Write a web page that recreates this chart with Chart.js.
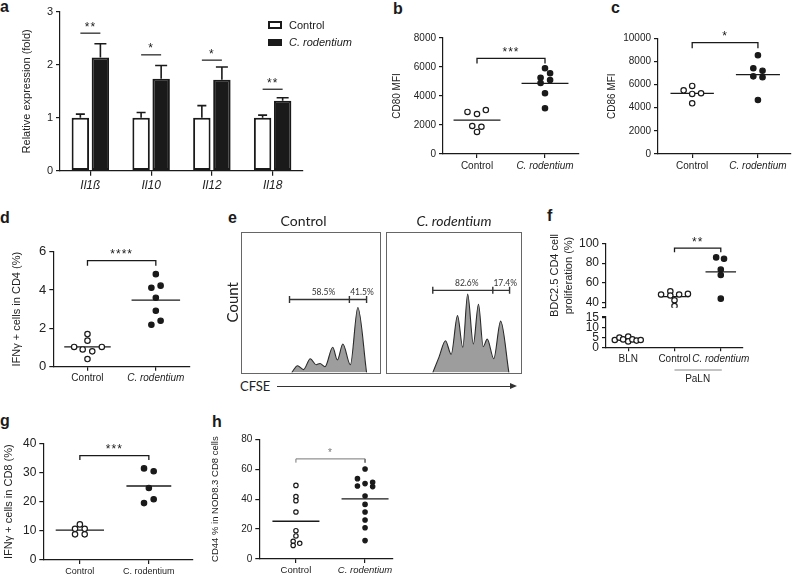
<!DOCTYPE html>
<html>
<head>
<meta charset="utf-8">
<title>C. rodentium figure</title>
<script src="https://cdn.jsdelivr.net/npm/chart.js@4.4.1/dist/chart.umd.min.js"></script>
<style>
  body { margin: 0; background: #fff; }
  #page { position: relative; width: 796px; height: 575px; overflow: hidden; font-family: 'Liberation Sans', Arial, sans-serif; color: #1a1a1a; }
  #page canvas { position: absolute; }
  .tag { position: absolute; font-weight: bold; font-size: 16px; line-height: 16px; }
  .cfse { position: absolute; left: 240px; top: 379px; font-family: Lato, sans-serif; font-size: 13px; line-height: 15px; color: #222; }
  .arrow { position: absolute; left: 277px; top: 386px; width: 234px; height: 0; border-top: 1px solid #333; }
  .arrow:after { content: ''; position: absolute; right: -6px; top: -4px; border-left: 7px solid #333; border-top: 3.5px solid transparent; border-bottom: 3.5px solid transparent; }
</style>
</head>
<body>
<div id="page">
  <div class="tag" style="left:0px;top:-1px">a</div>
  <div class="tag" style="left:393px;top:1px">b</div>
  <div class="tag" style="left:611px;top:0px">c</div>
  <div class="tag" style="left:0px;top:210px">d</div>
  <div class="tag" style="left:228px;top:210px">e</div>
  <div class="tag" style="left:547px;top:208px">f</div>
  <div class="tag" style="left:0px;top:413px">g</div>
  <div class="tag" style="left:212px;top:414px">h</div>
  <div class="cfse">CFSE</div>
  <div class="arrow"></div>
  <canvas id="chartA"></canvas>
  <canvas id="chartB"></canvas>
  <canvas id="chartC"></canvas>
  <canvas id="chartD"></canvas>
  <canvas id="chartE1"></canvas>
  <canvas id="chartE2"></canvas>
  <canvas id="chartF1"></canvas>
  <canvas id="chartF2"></canvas>
  <canvas id="chartG"></canvas>
  <canvas id="chartH"></canvas>
</div>
<script>
// a: relative expression
const aGenes = ['Il1ß', 'Il10', 'Il12', 'Il18'];
const aControl = [1, 1, 1, 1];
const aControlErr = [0.07, 0.1, 0.23, 0.05];
const aRodent = [2.14, 1.74, 1.72, 1.32];
const aRodentErr = [0.26, 0.25, 0.24, 0.06];
const aSigY = [2.6, 2.19, 2.09, 1.54];
const aSigStars = ['**', '*', '*', '**'];
const aTicks = [0, 1, 2, 3];

const groupNames = ['Control', 'C. rodentium'];

// b: CD80 MFI
const bControl = [2900, 2760, 3030, 1930, 1880, 1520];
const bControlJit = [-0.28, 0, 0.26, -0.14, 0.13, 0];
const bRodent = [5910, 5570, 5260, 5100, 4900, 4190, 3150];
const bRodentJit = [0, 0.15, -0.13, 0.15, -0.13, 0, 0];
const bTicks = [0, 2000, 4000, 6000, 8000];
const bBracket = [6250, 6600];

// c: CD86 MFI
const cControl = [5500, 5880, 5190, 5250, 4380];
const cControlJit = [-0.26, 0, 0, 0.27, 0];
const cRodent = [8530, 7410, 7200, 6710, 6630, 4670];
const cRodentJit = [0, -0.14, 0.14, -0.14, 0.14, 0];
const cTicks = [0, 2000, 4000, 6000, 8000, 10000];
const cBracket = [9140, 9620];

// d: IFNg+ in CD4
const dControl = [1.7, 1.36, 1.03, 0.9, 0.8, 1.03, 0.4];
const dControlJit = [0, 0, -0.39, -0.14, 0.14, 0.42, 0];
const dRodent = [4.83, 4.12, 4.23, 3.6, 2.92, 2.4, 2.19];
const dRodentJit = [0, -0.13, 0.14, 0, 0, 0.14, -0.13];
const dTicks = [0, 2, 4, 6];
const dBracket = [5.27, 5.53];

// e: CFSE histograms
const eControlCfse = [366, 408, 451, 500, 542, 570, 606, 662, 695, 735, 789, 843, 906];
const eControlCount = [0, 4.9, 2.1, 9.9, 5.6, 6.5, 4.2, 18, 9, 20.3, 5.6, 46.3, 0];
const eRodentCfse = [343, 389, 437, 479, 526, 565, 601, 643, 681, 716, 746, 794, 845, 906];
const eRodentCount = [0, 11, 22.7, 13, 40.5, 18, 55.8, 20.3, 48.6, 18.5, 23.8, 9.9, 36.6, 0];
const eControlGate = [350, 782, 906];
const eRodentGate = [343, 787, 911];
const eControlGateY = 52;
const eRodentGateY = 58.5;
const eControlPct = ['58.5%', '41.5%'];
const eRodentPct = ['82.6%', '17.4%'];

// f: BDC2.5 proliferation
const fNames = ['BLN', 'Control', 'C. rodentium'];
const fBln = [3.7, 4.9, 4.0, 5.4, 3.0, 4.0, 3.4, 3.7];
const fBlnJit = [-0.29, -0.19, -0.11, 0, 0, 0.09, 0.18, 0.27];
const fControl = [48.4, 51.6, 47.4, 48.4, 49.0, 42.6, 36.8];
const fControlJit = [-0.29, -0.09, -0.09, 0.1, 0.29, 0, 0];
const fRodent = [85.8, 84.5, 73.5, 68.1, 44.2];
const fRodentJit = [-0.1, 0.07, 0, 0, 0];
const fTopTicks = [40, 60, 80, 100];
const fLowTicks = [0, 5, 10, 15];
const fBracket = [91, 95.2];

// g: IFNg+ in CD8
const gControl = [12.2, 10.7, 10.7, 8.8, 8.8];
const gControlJit = [0, -0.14, 0.14, -0.14, 0.14];
const gRodent = [31.4, 30.4, 24.7, 20.8, 19.5];
const gRodentJit = [-0.14, 0.14, 0, 0.14, -0.14];
const gTicks = [0, 10, 20, 30, 40];
const gBracket = [34.3, 35.8];

// h: CD44 in NOD8.3 CD8
const hControl = [49.2, 41.7, 39.0, 31.4, 18.9, 15.4, 11.8, 9.1, 10.5];
const hControlJit = [0, 0, 0, 0, 0, 0, -0.08, -0.08, 0.11];
const hRodent = [60.2, 53.7, 48.8, 50.4, 51.3, 48.4, 42.1, 36.5, 31.4, 26.1, 20.9, 12.3];
const hRodentJit = [0, -0.22, -0.22, 0, 0.22, 0.22, 0, 0, 0, 0, 0, 0];
const hTicks = [0, 20, 40, 60, 80];
const hBracket = [64.4, 66.9];

const FONT = "'Liberation Sans', Arial, sans-serif";
const FLOW_FONT = "Lato, 'Open Sans', sans-serif";
const INK = '#1a1a1a';

// size a canvas and work out the margins around its plot rectangle
function place(id, left, top, right, bottom, plot) {
    const c = document.getElementById(id);
    c.width = right - left;
    c.height = bottom - top;
    c.style.left = left + 'px';
    c.style.top = top + 'px';
    return { el: c, yw: plot[0] - left, pt: plot[1] - top, pr: right - plot[2], pb: bottom - plot[3] };
}

function mean(vals) {
    return vals.reduce((a, b) => a + b, 0) / vals.length;
}

function starPlugin(o) {
    return {
        id: 'stars',
        afterDatasetsDraw(chart) {
            if (!o.stars) return;
            const { ctx, scales: { x, y } } = chart;
            ctx.save();
            ctx.fillStyle = o.bracketColor || INK;
            ctx.font = (o.starSize || 12) + 'px ' + FONT;
            ctx.textAlign = 'center';
            ctx.letterSpacing = '1px';
            ctx.fillText(o.stars, x.getPixelForValue((o.pair[0] + o.pair[1]) / 2), y.getPixelForValue(o.bracket[1]) - 2.5);
            ctx.restore();
        }
    };
}

function dotChart(f, o) {
    const datasets = [];
    o.groups.forEach(g => datasets.push({
        data: g.vals.map((v, i) => ({ x: g.pos + g.jit[i], y: v })),
        showLine: false,
        pointRadius: o.r || 2.7,
        pointBorderWidth: 1.2,
        pointBorderColor: INK,
        pointBackgroundColor: g.open ? '#fff' : INK
    }));
    o.groups.forEach(g => {
        const m = mean(g.vals);
        datasets.push({
            data: [{ x: g.pos - g.half, y: m }, { x: g.pos + g.half, y: m }],
            showLine: true, pointRadius: 0, borderColor: INK, borderWidth: 1.3
        });
    });
    if (o.bracket) {
        const [p1, p2] = o.pair;
        const [lo, hi] = o.bracket;
        datasets.push({
            data: [{ x: p1, y: lo }, { x: p1, y: hi }, { x: p2, y: hi }, { x: p2, y: lo }],
            showLine: true, pointRadius: 0, borderJoinStyle: 'miter',
            borderColor: o.bracketColor || INK, borderWidth: o.bracketWidth || 1.3
        });
    }

    const yTicks = o.breakAt !== undefined ? [o.breakAt].concat(o.yTicks) : o.yTicks;
    const xScale = o.hideX ? { type: 'linear', display: false, min: o.xMin, max: o.xMax } : {
        type: 'linear',
        min: o.xMin,
        max: o.xMax,
        afterBuildTicks: s => { s.ticks = o.cats.map(v => ({ value: v })); },
        ticks: {
            callback: (v, i) => o.names[i],
            color: '#222',
            padding: 2,
            maxRotation: 0,
            autoSkip: false,
            font: ctx => ({ family: FONT, size: o.nameSize, style: o.italic[ctx.index] ? 'italic' : 'normal' })
        },
        grid: { drawOnChartArea: false, tickLength: 4, color: INK, lineWidth: 1.2 },
        border: { color: INK, width: 1.2 },
        afterFit: s => { s.height = f.pb; }
    };

    return new Chart(f.el, {
        type: 'scatter',
        data: { datasets },
        options: {
            responsive: false,
            animation: false,
            events: [],
            layout: { padding: { left: 0, top: f.pt, right: f.pr, bottom: o.hideX ? f.pb : 0 } },
            plugins: { legend: { display: false }, tooltip: { enabled: false } },
            scales: {
                x: xScale,
                y: {
                    min: o.yMin,
                    max: o.yMax,
                    afterBuildTicks: s => { s.ticks = yTicks.map(v => ({ value: v })); },
                    ticks: {
                        callback: v => (v === o.breakAt ? '' : String(v)),
                        color: '#222',
                        padding: 3,
                        autoSkip: false,
                        font: { family: FONT, size: o.tickSize }
                    },
                    grid: { drawOnChartArea: false, tickLength: 4, color: INK, lineWidth: 1.2 },
                    border: { color: INK, width: 1.2 },
                    title: {
                        display: !!o.title,
                        text: o.title,
                        color: '#222',
                        padding: 0,
                        font: { family: FONT, size: o.titleSize, lineHeight: o.titleLH || 1.2 }
                    },
                    afterFit: s => { s.width = f.yw; }
                }
            }
        },
        plugins: [starPlugin(o)].concat(o.extra || [])
    });
}

const framePlugin = {
    id: 'frame',
    afterDraw(chart) {
        const { ctx, chartArea: a } = chart;
        ctx.save();
        ctx.strokeStyle = '#666';
        ctx.lineWidth = 1;
        ctx.strokeRect(Math.round(a.left) + 0.5, Math.round(a.top) + 0.5, Math.round(a.right - a.left), Math.round(a.bottom - a.top));
        ctx.restore();
    }
};

function gatePlugin(o) {
    return {
        id: 'gateText',
        afterDatasetsDraw(chart) {
            const { ctx, scales: { x, y } } = chart;
            ctx.save();
            ctx.font = '8.5px ' + FLOW_FONT;
            ctx.fillStyle = '#333';
            ctx.textAlign = 'center';
            o.pct.forEach((t, i) => {
                const mid = (o.gate[i] + o.gate[i + 1]) / 2;
                ctx.fillText(t, x.getPixelForValue(mid) + 4, y.getPixelForValue(o.gateY) - 4);
            });
            ctx.restore();
        }
    };
}

function histChart(f, o) {
    return new Chart(f.el, {
        type: 'line',
        data: {
            datasets: [{
                data: o.gate.map(v => ({ x: v, y: o.gateY })),
                borderColor: '#333', borderWidth: 1.4, fill: false,
                pointStyle: 'line', pointRotation: 90, pointRadius: 3.5,
                pointBorderWidth: 1.4, pointBorderColor: '#333'
            }, {
                data: o.cfse.map((v, i) => ({ x: v, y: o.count[i] })),
                borderColor: '#2b2b2b', borderWidth: 1.1,
                backgroundColor: '#9d9d9d', fill: 'origin',
                pointRadius: 0, cubicInterpolationMode: 'monotone'
            }]
        },
        options: {
            responsive: false,
            animation: false,
            events: [],
            layout: { padding: { left: o.yTitle ? 0 : f.yw, top: 0, right: f.pr, bottom: f.pb } },
            plugins: {
                legend: { display: false },
                tooltip: { enabled: false },
                title: {
                    display: true,
                    text: o.title,
                    color: '#222',
                    font: { family: FLOW_FONT, size: 14, weight: 'normal', style: o.italic ? 'italic' : 'normal' },
                    padding: { top: 0, bottom: f.pt - 16.8 }
                }
            },
            scales: {
                x: { type: 'linear', display: false, min: 0, max: 1000 },
                y: {
                    display: !!o.yTitle,
                    min: 0,
                    max: 100,
                    ticks: { display: false },
                    grid: { display: false },
                    border: { display: false },
                    title: { display: !!o.yTitle, text: o.yTitle, color: '#222', padding: 0, font: { family: FLOW_FONT, size: 15 } },
                    afterFit: s => { s.width = f.yw; }
                }
            }
        },
        plugins: [framePlugin, gatePlugin(o)]
    });
}

// error bars, significance marks and legend of panel a
const aExtras = {
    id: 'aExtras',
    afterDatasetsDraw(chart) {
        const { ctx, scales: { x, y } } = chart;
        ctx.save();
        ctx.strokeStyle = INK;
        ctx.lineWidth = 1.6;
        [[aControl, aControlErr, 9], [aRodent, aRodentErr, 12]].forEach(([vals, errs, cap], d) => {
            chart.getDatasetMeta(d).data.forEach((bar, i) => {
                const top = y.getPixelForValue(vals[i] + errs[i]);
                ctx.beginPath();
                ctx.moveTo(bar.x, bar.y);
                ctx.lineTo(bar.x, top);
                ctx.moveTo(bar.x - cap / 2, top);
                ctx.lineTo(bar.x + cap / 2, top);
                ctx.stroke();
            });
        });

        ctx.lineWidth = 1.2;
        ctx.fillStyle = INK;
        ctx.font = '12px ' + FONT;
        ctx.textAlign = 'center';
        ctx.letterSpacing = '1px';
        aSigY.forEach((v, i) => {
            const cx = x.getPixelForValue(i);
            const py = y.getPixelForValue(v);
            ctx.beginPath();
            ctx.moveTo(cx - 10, py);
            ctx.lineTo(cx + 10, py);
            ctx.stroke();
            ctx.fillText(aSigStars[i], cx, py - 2.5);
        });
        ctx.letterSpacing = '0px';

        // legend
        ctx.lineWidth = 2;
        ctx.fillStyle = '#fff';
        ctx.fillRect(249, 22, 12, 6);
        ctx.strokeRect(249, 22, 12, 6);
        ctx.fillStyle = INK;
        ctx.fillRect(248, 39, 14, 7);
        ctx.textAlign = 'left';
        ctx.textBaseline = 'middle';
        ctx.font = '11px ' + FONT;
        ctx.fillText('Control', 269, 25.5);
        ctx.font = 'italic 11px ' + FONT;
        ctx.fillText('C. rodentium', 269, 42.5);
        ctx.restore();
    }
};

// PaLN grouping line under panel f
const palnPlugin = {
    id: 'paln',
    afterDraw(chart) {
        const { ctx, scales: { x }, chartArea: a } = chart;
        ctx.save();
        ctx.strokeStyle = '#888';
        ctx.lineWidth = 1.2;
        ctx.beginPath();
        ctx.moveTo(x.getPixelForValue(2), a.bottom + 22.7);
        ctx.lineTo(x.getPixelForValue(3) + 1, a.bottom + 22.7);
        ctx.stroke();
        ctx.fillStyle = '#222';
        ctx.font = '10px ' + FONT;
        ctx.textAlign = 'center';
        ctx.textBaseline = 'middle';
        ctx.fillText('PaLN', x.getPixelForValue(2.5), a.bottom + 31.5);
        ctx.restore();
    }
};

document.addEventListener('DOMContentLoaded', function() {
    // a
    const fa = place('chartA', 20, 0, 360, 200, [60, 12, 303, 170.7]);
    new Chart(fa.el, {
        type: 'bar',
        data: {
            labels: aGenes,
            datasets: [
                { label: 'Control', data: aControl, backgroundColor: '#fff', borderColor: INK, borderWidth: 2, borderSkipped: false },
                { label: 'C. rodentium', data: aRodent, backgroundColor: INK, borderColor: INK, borderWidth: 2, borderSkipped: false }
            ]
        },
        options: {
            responsive: false,
            animation: false,
            events: [],
            datasets: { bar: { categoryPercentage: 0.66, barPercentage: 0.87 } },
            layout: { padding: { left: 0, top: fa.pt, right: fa.pr, bottom: 0 } },
            plugins: { legend: { display: false }, tooltip: { enabled: false } },
            scales: {
                x: {
                    ticks: { color: '#222', padding: 3, font: { family: FONT, size: 12, style: 'italic' } },
                    grid: { offset: false, drawOnChartArea: false, tickLength: 5, color: INK, lineWidth: 1.2 },
                    border: { color: INK, width: 1.2 },
                    afterFit: s => { s.height = fa.pb; }
                },
                y: {
                    min: 0,
                    max: 3,
                    afterBuildTicks: s => { s.ticks = aTicks.map(v => ({ value: v })); },
                    ticks: { color: '#222', padding: 3, autoSkip: false, font: { family: FONT, size: 11 } },
                    grid: { drawOnChartArea: false, tickLength: 4, color: INK, lineWidth: 1.2 },
                    border: { color: INK, width: 1.2 },
                    title: { display: true, text: 'Relative expression (fold)', color: '#222', padding: 0, font: { family: FONT, size: 11 } },
                    afterFit: s => { s.width = fa.yw; }
                }
            }
        },
        plugins: [aExtras]
    });

    // b
    dotChart(place('chartB', 391, 0, 600, 185, [443, 38, 579, 154]), {
        groups: [
            { pos: 1, vals: bControl, jit: bControlJit, open: true, half: 0.69 },
            { pos: 3, vals: bRodent, jit: bRodentJit, half: 0.69 }
        ],
        cats: [1, 3], names: groupNames, italic: [false, true],
        xMin: 0, xMax: 4, yMin: 0, yMax: 8000, yTicks: bTicks,
        bracket: bBracket, pair: [1, 3], stars: '***',
        title: 'CD80 MFI', titleSize: 10, tickSize: 10, nameSize: 10
    });

    // c
    dotChart(place('chartC', 606, 0, 796, 185, [658, 38.3, 795, 154]), {
        groups: [
            { pos: 1, vals: cControl, jit: cControlJit, open: true, half: 0.66 },
            { pos: 3, vals: cRodent, jit: cRodentJit, half: 0.67 }
        ],
        cats: [1, 3], names: groupNames, italic: [false, true],
        xMin: -0.04, xMax: 4, yMin: 0, yMax: 10000, yTicks: cTicks,
        bracket: cBracket, pair: [1, 3], stars: '*',
        title: 'CD86 MFI', titleSize: 10, tickSize: 10, nameSize: 10
    });

    // d
    dotChart(place('chartD', 10, 230, 200, 395, [53.3, 251.7, 190, 366.7]), {
        groups: [
            { pos: 1, vals: dControl, jit: dControlJit, open: true, half: 0.68 },
            { pos: 3, vals: dRodent, jit: dRodentJit, half: 0.71 }
        ],
        cats: [1, 3], names: groupNames, italic: [false, true],
        xMin: 0, xMax: 4, yMin: 0, yMax: 6, yTicks: dTicks,
        bracket: dBracket, pair: [1, 3], stars: '****',
        title: 'IFNγ + cells in CD4 (%)', titleSize: 11, tickSize: 13, nameSize: 10
    });

    // e
    histChart(place('chartE1', 224, 213, 385, 378, [241, 232, 383, 376]), {
        cfse: eControlCfse, count: eControlCount, gate: eControlGate, gateY: eControlGateY,
        pct: eControlPct, title: 'Control', yTitle: 'Count'
    });
    histChart(place('chartE2', 381, 213, 527, 378, [383, 232, 525, 376]), {
        cfse: eRodentCfse, count: eRodentCount, gate: eRodentGate, gateY: eRodentGateY,
        pct: eRodentPct, title: 'C. rodentium', italic: true
    });

    // f (broken y axis: two stacked charts)
    dotChart(place('chartF1', 548, 225, 796, 318, [606, 243.3, 743, 310.5]), {
        groups: [
            { pos: 2, vals: fControl, jit: fControlJit, open: true, half: 0.32 },
            { pos: 3, vals: fRodent, jit: fRodentJit, half: 0.33 }
        ],
        hideX: true, xMin: 0.52, xMax: 3.48, yMin: 35, yMax: 100, yTicks: fTopTicks, breakAt: 35,
        bracket: fBracket, pair: [2, 3], stars: '**',
        title: ['BDC2.5 CD4 cell', 'proliferation (%)'], titleSize: 11, titleLH: 14 / 11, tickSize: 12
    });
    dotChart(place('chartF2', 548, 305, 796, 392, [606, 316.7, 743, 347.3]), {
        groups: [
            { pos: 1, vals: fBln, jit: fBlnJit, open: true, half: 0.25 }
        ],
        cats: [1, 2, 3], names: fNames, italic: [false, false, true],
        xMin: 0.52, xMax: 3.48, yMin: 0, yMax: 15.5, yTicks: fLowTicks, breakAt: 15.5,
        tickSize: 12, nameSize: 10, extra: [palnPlugin]
    });

    // g
    dotChart(place('chartG', 2, 425, 205, 575, [43.3, 443.3, 193, 560]), {
        groups: [
            { pos: 1, vals: gControl, jit: gControlJit, open: true, half: 0.7 },
            { pos: 3, vals: gRodent, jit: gRodentJit, half: 0.65 }
        ],
        cats: [1, 3], names: ['Control', 'C. rodentium'], italic: [false, false],
        xMin: -0.06, xMax: 4.28, yMin: 0, yMax: 40, yTicks: gTicks,
        bracket: gBracket, pair: [1, 3], stars: '***',
        title: 'IFNγ + cells in CD8 (%)', titleSize: 11, tickSize: 12, nameSize: 9
    });

    // h
    dotChart(place('chartH', 210, 420, 410, 575, [259.3, 439.3, 392.7, 559]), {
        groups: [
            { pos: 1, vals: hControl, jit: hControlJit, open: true, half: 0.68 },
            { pos: 3, vals: hRodent, jit: hRodentJit, half: 0.68 }
        ],
        cats: [1, 3], names: groupNames, italic: [false, true],
        xMin: -0.06, xMax: 3.8, yMin: 0, yMax: 80, yTicks: hTicks,
        bracket: hBracket, pair: [1, 3], stars: '*', bracketColor: '#777', bracketWidth: 1, starSize: 10,
        title: 'CD44 % in NOD8.3 CD8 cells', titleSize: 9.5, tickSize: 10, nameSize: 9.5, r: 2.2
    });
});
</script>
</body>
</html>
